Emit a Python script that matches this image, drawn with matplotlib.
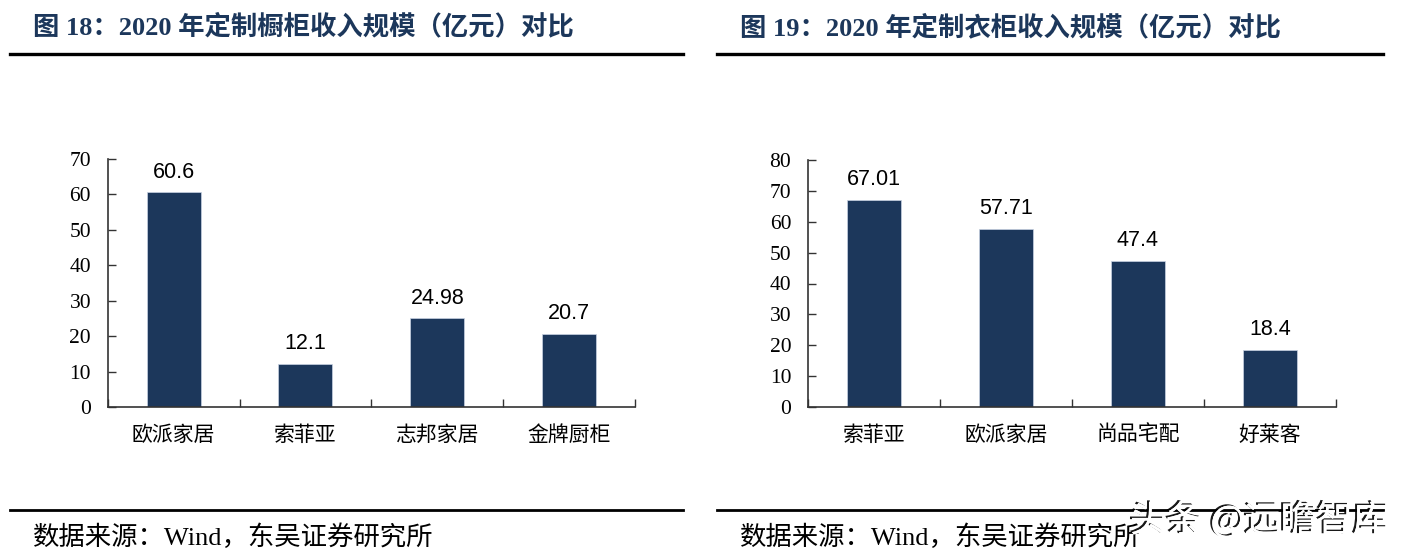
import matplotlib
matplotlib.use("Agg")
import matplotlib.pyplot as plt
import matplotlib.patheffects as pe
from matplotlib.lines import Line2D

# data
cab_names = ["欧派家居", "索菲亚", "志邦家居", "金牌厨柜"]
cab_values = [60.6, 12.1, 24.98, 20.7]
cab_labels = ["60.6", "12.1", "24.98", "20.7"]

ward_names = ["索菲亚", "欧派家居", "尚品宅配", "好莱客"]
ward_values = [67.01, 57.71, 47.4, 18.4]
ward_labels = ["67.01", "57.71", "47.4", "18.4"]

titles = ["图 18：2020 年定制橱柜收入规模（亿元）对比",
          "图 19：2020 年定制衣柜收入规模（亿元）对比"]
source = "数据来源：Wind，东吴证券研究所"

NAVY = "#1c375b"
SERIF = ["Liberation Serif", "Noto Sans CJK SC"]
CJK = ["Noto Sans CJK SC", "DejaVu Sans"]

W, H = 1405, 558
fig = plt.figure(figsize=(W / 100, H / 100), dpi=100)


def fx(px):
    return px / W


def fy(py):
    return 1 - py / H


def panel(left_px, right_px, top_px, ymax, names, values, labels, title, line_x):
    ax = fig.add_axes([fx(left_px), fy(407), fx(right_px - left_px), fy(top_px) - fy(407)])
    n = len(names)
    xs = [i + 0.5 for i in range(n)]
    ax.bar(xs, values, width=0.41, color=NAVY, edgecolor="#c8d3e3", linewidth=0.5, zorder=2)
    for x, v, lab in zip(xs, values, labels):
        ax.annotate(lab, (x, v), xytext=(0, 7), textcoords="offset points",
                    ha="center", va="bottom", fontsize=15.5, family="Liberation Sans")
    ax.set_xlim(0, n)
    ax.set_ylim(0, ymax)
    ax.set_yticks(range(0, ymax + 1, 10))
    ax.set_xticks(range(0, n + 1))
    ax.set_xticklabels([])
    ax.set_xticks(xs, minor=True)
    ax.set_xticklabels(names, minor=True, family=CJK, fontsize=15, fontweight="light")
    ax.tick_params(axis="x", which="major", direction="in", length=6, width=1, color="#333333")
    ax.tick_params(axis="x", which="minor", length=0, pad=12)
    ax.tick_params(axis="y", direction="in", length=6, width=1, color="#333333", pad=12)
    for t in ax.get_yticklabels():
        t.set_family("Liberation Serif")
        t.set_fontsize(15.5)
    for s in ["top", "right"]:
        ax.spines[s].set_visible(False)
    for s in ["left", "bottom"]:
        ax.spines[s].set_color("#333333")
        ax.spines[s].set_linewidth(1.2)

    x0, x1 = line_x
    fig.text(fx(x0 + 23), fy(27), title, family=SERIF, fontsize=19,
             fontweight="bold", color=NAVY, va="center", ha="left")
    fig.add_artist(Line2D([fx(x0), fx(x1)], [fy(54), fy(54)], color="black", lw=2.4))
    fig.add_artist(Line2D([fx(x0), fx(x1)], [fy(510), fy(510)], color="black", lw=2.0))
    fig.text(fx(x0 + 23), fy(537), source, family=SERIF, fontsize=19,
             va="center", ha="left")
    return ax


panel(107.7, 635, 159, 70, cab_names, cab_values, cab_labels, titles[0], (10, 683))
panel(808, 1336, 160, 80, ward_names, ward_values, ward_labels, titles[1], (717, 1383))

# watermark
wm = fig.text(fx(1130), fy(521), "头条 @远瞻智库", family=CJK, fontsize=26,
              color="white", va="center", ha="left")
wm.set_path_effects([pe.withSimplePatchShadow(offset=(-1.5, 1), shadow_rgbFace="black", alpha=0.9),
                     pe.Normal()])

fig.savefig("out.png", dpi=100)
